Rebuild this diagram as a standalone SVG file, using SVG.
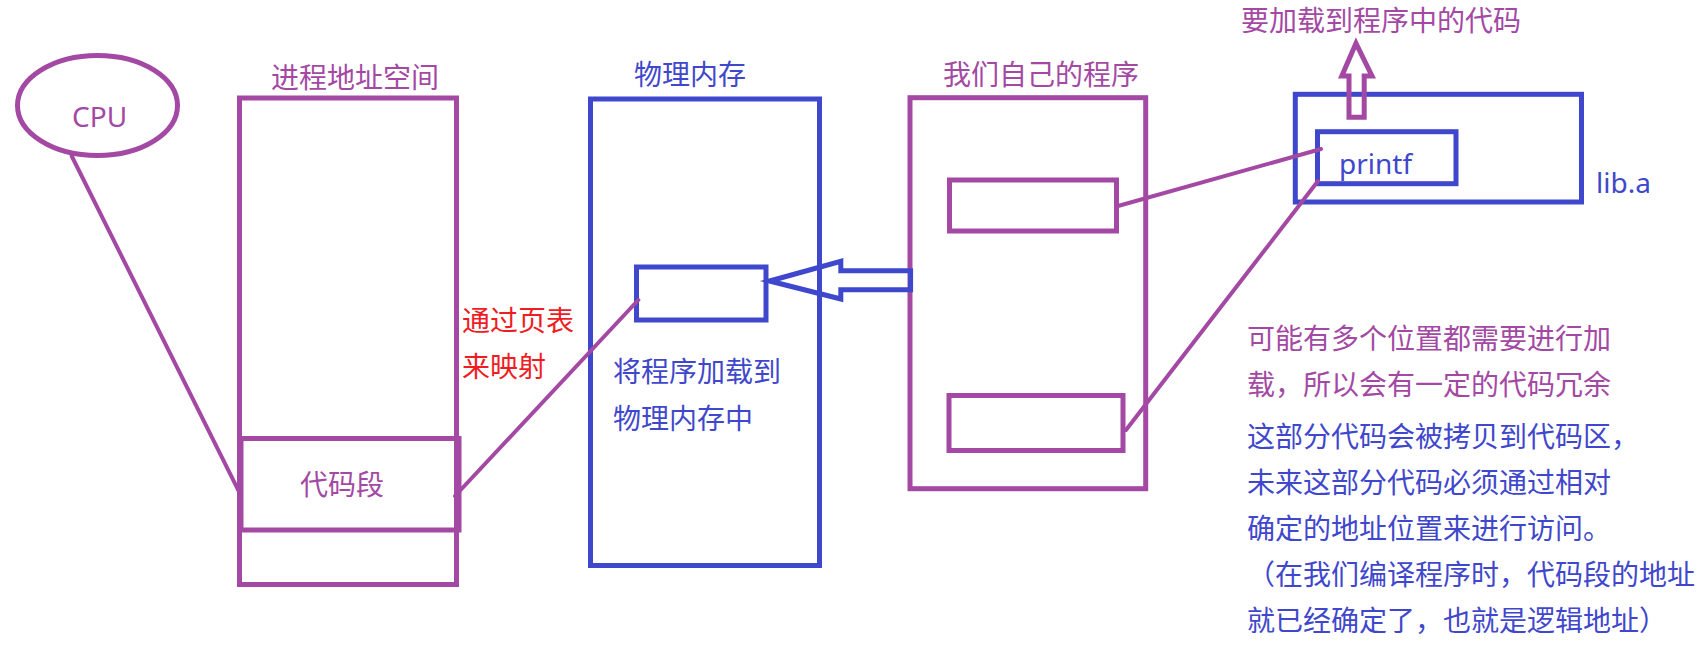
<svg xmlns="http://www.w3.org/2000/svg" width="1707" height="651" viewBox="0 0 1707 651">
<style>
.p{fill:none;stroke:#A349A4;stroke-width:5}
.b{fill:none;stroke:#3F48CC;stroke-width:5}
.pl{fill:none;stroke:#A349A4;stroke-width:4;stroke-linecap:round}
.t{font-family:"Noto Sans","Noto Sans CJK SC",sans-serif;font-size:28px}
.cp{fill:#A349A4}
.cb{fill:#3F48CC}
.cr{fill:#F01C24}
</style>
<rect width="1707" height="651" fill="#ffffff"/>
<g id="cpu">
<ellipse class="p" cx="97.5" cy="105.5" rx="80" ry="50"/>
<text class="t cp" x="72" y="127">CPU</text>
</g>
<g id="process-space">
<text class="t cp" x="271" y="88">进程地址空间</text>
<rect class="p" x="239.5" y="98" width="217" height="486.5"/>
<rect class="p" x="241" y="438.5" width="218" height="91.5"/>
<text class="t cp" x="300" y="495">代码段</text>
</g>
<g id="physical-memory">
<text class="t cb" x="634" y="85">物理内存</text>
<rect class="b" x="590.5" y="99" width="229" height="466.5"/>
<rect class="b" x="636.5" y="267" width="129.5" height="53"/>
<text class="t cb" x="613" y="382">将程序加载到</text>
<text class="t cb" x="613" y="429">物理内存中</text>
</g>
<g id="page-table-label">
<text class="t cr" x="462" y="331">通过页表</text>
<text class="t cr" x="462" y="377">来映射</text>
</g>
<g id="our-program">
<text class="t cp" x="943" y="85">我们自己的程序</text>
<rect class="p" x="910" y="97.7" width="235.7" height="391"/>
<rect class="p" x="949.5" y="180" width="167" height="51"/>
<rect class="p" x="949" y="395.5" width="174" height="55"/>
</g>
<g id="lib">
<text class="t cp" x="1241" y="31">要加载到程序中的代码</text>
<rect class="b" x="1295.3" y="94.3" width="286.2" height="107.7"/>
<rect class="b" x="1317.5" y="131.7" width="138.5" height="52"/>
<text class="t cb" x="1339" y="174">printf</text>
<text class="t cb" x="1596" y="193">lib.a</text>
</g>
<g id="notes">
<text class="t cp" x="1247" y="349">可能有多个位置都需要进行加</text>
<text class="t cp" x="1247" y="395">载，所以会有一定的代码冗余</text>
<text class="t cb" x="1247" y="447">这部分代码会被拷贝到代码区，</text>
<text class="t cb" x="1247" y="493">未来这部分代码必须通过相对</text>
<text class="t cb" x="1247" y="539">确定的地址位置来进行访问。</text>
<text class="t cb" x="1247" y="585">（在我们编译程序时，代码段的地址</text>
<text class="t cb" x="1247" y="631">就已经确定了，也就是逻辑地址）</text>
</g>
<g id="connectors">
<line class="pl" x1="71.7" y1="156" x2="240" y2="493.6"/>
<line class="pl" x1="455" y1="496" x2="638.3" y2="300"/>
<line class="pl" x1="1118" y1="206" x2="1321" y2="149"/>
<line class="pl" x1="1126" y1="430" x2="1318" y2="181"/>
<polygon class="b" points="769.7,281 840.8,261.4 840.8,270.7 910.6,270.7 910.6,289.7 840.8,289.7 840.8,299"/>
<polygon class="p" points="1356,43.3 1372,76 1364.2,76 1364.2,117.3 1349,117.3 1349,76 1341.8,76"/>
</g>
</svg>
